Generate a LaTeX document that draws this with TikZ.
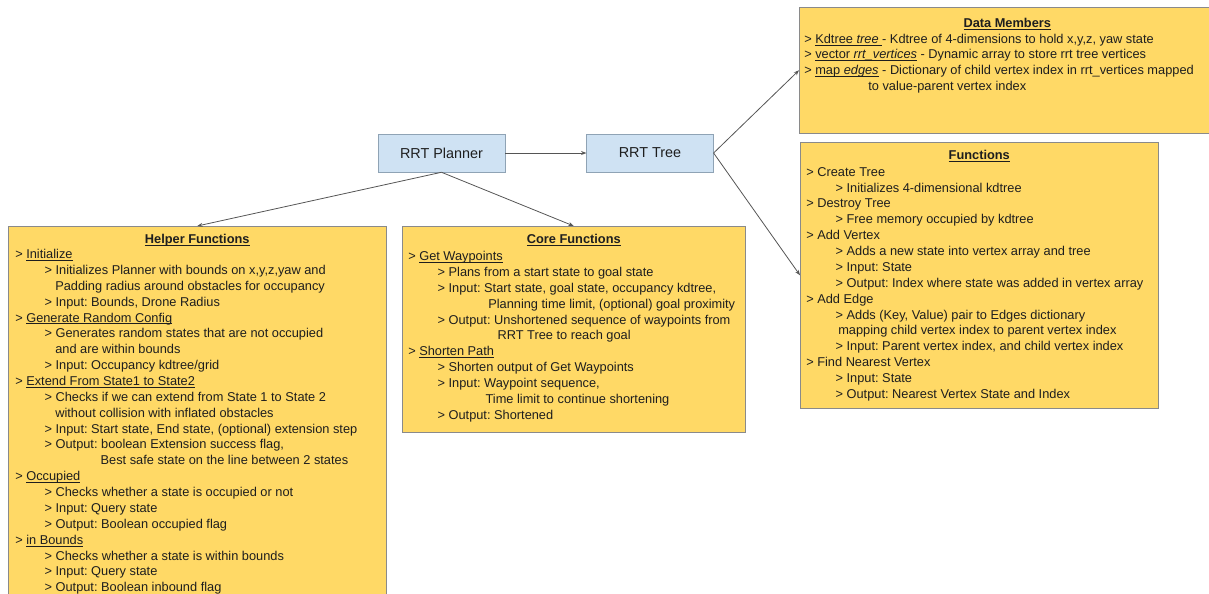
\documentclass[tikz,border=0pt]{standalone}
\usepackage{fontspec}
\setmainfont{Liberation Sans}
\usetikzlibrary{arrows.meta,positioning}

\definecolor{panelfill}{HTML}{FFD966}
\definecolor{panelline}{HTML}{8A8A8A}
\definecolor{classfill}{HTML}{CFE2F3}
\definecolor{classline}{HTML}{8FA3B5}
\definecolor{linkgray}{HTML}{555555}
\definecolor{inkgray}{HTML}{1E1E1E}

\newcommand{\indA}{\hspace*{22pt}}
\newcommand{\indB}[1]{\hspace*{#1}}
\newcommand{\uln}[1]{\leavevmode\setbox0\hbox{#1}\rlap{\rule[-1.6pt]{\wd0}{0.5pt}}\box0\relax}

\begin{document}
\frenchspacing
\begin{tikzpicture}[x=0.75pt, y=-0.75pt, >={Stealth[length=4pt,width=3pt]},
  every node/.style={font=\fontsize{9.6}{11.9}\selectfont, text=inkgray},
  classbox/.style={draw=classline, fill=classfill, minimum width=95pt, minimum height=28.5pt, font=\fontsize{10.8}{13}\selectfont},
  panel/.style={draw=panelline, fill=panelfill, anchor=north west, inner sep=0},
  paneltitle/.style={font=\fontsize{9.6}{11.9}\selectfont\bfseries},
  body/.style={anchor=north west, inner sep=0, align=left},
  link/.style={->, draw=linkgray, line width=0.6pt}]
  \clip (0,0) rectangle (1209,593);

  % main classes
  \node[classbox] (planner) at (441.5,153) {RRT Planner};
  \node[classbox] (tree)    at (650,153)   {RRT Tree};

  % panels
  \node[panel, minimum width=312pt,   minimum height=94.5pt]  (members) at (799,7)   {};
  \node[panel, minimum width=268.5pt, minimum height=199.5pt] (funcs)   at (800,142) {};
  \node[panel, minimum width=283.5pt, minimum height=290pt]   (helper)  at (8,226)   {};
  \node[panel, minimum width=257.25pt,minimum height=154.5pt] (core)    at (402,226) {};

  % titles
  \node[paneltitle] at ([shift={(0,16.5)}]members.north) {\uln{Data Members}};
  \node[paneltitle] at ([shift={(0,14)}]funcs.north)  {\uln{Functions}};
  \node[paneltitle] at ([shift={(0,14)}]helper.north) {\uln{Helper Functions}};
  \node[paneltitle] at ([shift={(0,14)}]core.north)   {\uln{Core Functions}};

  % data members
  \node[body] (membertext) at ([shift={(5,26.5)}]members.north west) {%
    > \uln{Kdtree \textit{tree} }- Kdtree of 4-dimensions to hold x,y,z, yaw state\\
    > \uln{vector \textit{rrt\_vertices}} - Dynamic array to store rrt tree vertices\\
    > \uln{map \textit{edges}} - Dictionary of child vertex index in rrt\_vertices mapped\\
    \indB{48pt}to value-parent vertex index};

  % tree functions
  \node[body] (functext) at ([shift={(6,25)}]funcs.north west) {%
    > Create Tree\\
    \indA> Initializes 4-dimensional kdtree\\
    > Destroy Tree\\
    \indA> Free memory occupied by kdtree\\
    > Add Vertex\\
    \indA> Adds a new state into vertex array and tree\\
    \indA> Input: State\\
    \indA> Output: Index where state was added in vertex array\\
    > Add Edge\\
    \indA> Adds (Key, Value) pair to Edges dictionary\\
    \indB{24pt}mapping child vertex index to parent vertex index\\
    \indA> Input: Parent vertex index, and child vertex index\\
    > Find Nearest Vertex\\
    \indA> Input: State\\
    \indA> Output: Nearest Vertex State and Index};

  % helper functions
  \node[body] (helpertext) at ([shift={(7,23)}]helper.north west) {%
    > \uln{Initialize}\\
    \indA> Initializes Planner with bounds on x,y,z,yaw and\\
    \indB{30pt}Padding radius around obstacles for occupancy\\
    \indA> Input: Bounds, Drone Radius\\
    > \uln{Generate Random Config}\\
    \indA> Generates random states that are not occupied\\
    \indB{30pt}and are within bounds\\
    \indA> Input: Occupancy kdtree/grid\\
    > \uln{Extend From State1 to State2}\\
    \indA> Checks if we can extend from State 1 to State 2\\
    \indB{30pt}without collision with inflated obstacles\\
    \indA> Input: Start state, End state, (optional) extension step\\
    \indA> Output: boolean Extension success flag,\\
    \indB{64pt}Best safe state on the line between 2 states\\
    > \uln{Occupied}\\
    \indA> Checks whether a state is occupied or not\\
    \indA> Input: Query state\\
    \indA> Output: Boolean occupied flag\\
    > \uln{in Bounds}\\
    \indA> Checks whether a state is within bounds\\
    \indA> Input: Query state\\
    \indA> Output: Boolean inbound flag};

  % core functions
  \node[body] (coretext) at ([shift={(6,25)}]core.north west) {%
    > \uln{Get Waypoints}\\
    \indA> Plans from a start state to goal state\\
    \indA> Input: Start state, goal state, occupancy kdtree,\\
    \indB{60pt}Planning time limit, (optional) goal proximity\\
    \indA> Output: Unshortened sequence of waypoints from\\
    \indB{67pt}RRT Tree to reach goal\\
    > \uln{Shorten Path}\\
    \indA> Shorten output of Get Waypoints\\
    \indA> Input: Waypoint sequence,\\
    \indB{58pt}Time limit to continue shortening\\
    \indA> Output: Shortened};

  % connectors
  \draw[link] (planner) -- (tree);
  \draw[link] (planner.south) -- (helper.north);
  \draw[link] (planner.south) -- (core.north);
  \draw[link] (tree.east) -- (members.west);
  \draw[link] (tree.east) -- (funcs.west);
\end{tikzpicture}
\end{document}
